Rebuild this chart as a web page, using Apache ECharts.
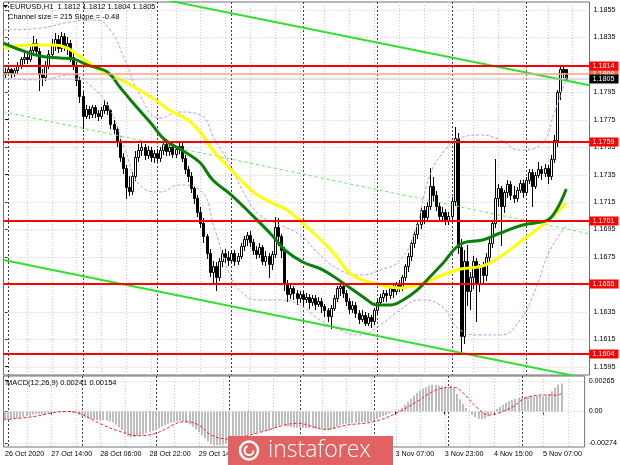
<!DOCTYPE html>
<html><head><meta charset="utf-8">
<script src="https://cdn.jsdelivr.net/npm/echarts@6/dist/echarts.min.js"></script>
<style>html,body{margin:0;padding:0;background:#fff}#c{width:620px;height:465px}</style>
</head><body><div id="c"></div>
<script>
// ---- DATA ----
// hourly candles [open, high, low, close], index 0 = 26 Oct 23:00
const candles = [
[1.1808,1.1813,1.1806,1.1810],[1.1810,1.1814,1.1808,1.1812],[1.1812,1.1813,1.1806,1.1809],[1.1809,1.1813,1.1807,1.1811],
[1.1811,1.1817,1.1809,1.1815],[1.1815,1.1821,1.1813,1.1819],[1.1819,1.1824,1.1816,1.1821],[1.1821,1.1823,1.1816,1.1819],
[1.1819,1.1828,1.1818,1.1826],[1.1826,1.1836,1.1824,1.1831],[1.1831,1.1834,1.1822,1.1825],[1.1825,1.1827,1.1797,1.1808],
[1.1808,1.1812,1.1800,1.1806],[1.1806,1.1818,1.1804,1.1815],[1.1815,1.1826,1.1813,1.1823],[1.1823,1.1834,1.1820,1.1830],
[1.1830,1.1838,1.1826,1.1834],[1.1834,1.1837,1.1824,1.1827],[1.1827,1.1839,1.1825,1.1836],[1.1836,1.1838,1.1826,1.1829],
[1.1829,1.1835,1.1823,1.1831],[1.1831,1.1833,1.1818,1.1821],[1.1821,1.1824,1.1812,1.1815],[1.1815,1.1817,1.1800,1.1804],
[1.1804,1.1806,1.1788,1.1792],[1.1792,1.1795,1.1769,1.1778],[1.1778,1.1786,1.1776,1.1783],[1.1783,1.1785,1.1776,1.1779],
[1.1779,1.1786,1.1777,1.1784],[1.1784,1.1786,1.1777,1.1780],[1.1780,1.1782,1.1775,1.1778],[1.1778,1.1784,1.1776,1.1782],
[1.1782,1.1789,1.1780,1.1786],[1.1786,1.1788,1.1779,1.1782],[1.1782,1.1783,1.1769,1.1772],[1.1772,1.1775,1.1765,1.1768],
[1.1768,1.1770,1.1756,1.1759],[1.1759,1.1761,1.1745,1.1748],[1.1748,1.1751,1.1736,1.1740],[1.1740,1.1742,1.1718,1.1726],
[1.1726,1.1734,1.1720,1.1723],[1.1723,1.1737,1.1721,1.1734],[1.1734,1.1752,1.1731,1.1748],[1.1748,1.1757,1.1745,1.1753],
[1.1753,1.1758,1.1749,1.1755],[1.1755,1.1757,1.1746,1.1749],[1.1749,1.1756,1.1747,1.1753],[1.1753,1.1755,1.1745,1.1748],
[1.1748,1.1753,1.1744,1.1751],[1.1751,1.1754,1.1745,1.1747],[1.1747,1.1755,1.1745,1.1753],[1.1753,1.1759,1.1750,1.1757],
[1.1757,1.1761,1.1749,1.1752],[1.1752,1.1757,1.1749,1.1755],[1.1755,1.1758,1.1748,1.1750],[1.1750,1.1756,1.1748,1.1754],
[1.1754,1.1759,1.1751,1.1756],[1.1756,1.1758,1.1745,1.1747],[1.1747,1.1749,1.1736,1.1739],[1.1739,1.1741,1.1730,1.1734],
[1.1734,1.1737,1.1722,1.1725],[1.1725,1.1727,1.1714,1.1718],[1.1718,1.1720,1.1705,1.1708],[1.1708,1.1711,1.1697,1.1700],
[1.1700,1.1703,1.1686,1.1690],[1.1690,1.1692,1.1674,1.1678],[1.1678,1.1681,1.1661,1.1664],[1.1664,1.1672,1.1656,1.1668],
[1.1668,1.1671,1.1651,1.1660],[1.1660,1.1674,1.1658,1.1672],[1.1672,1.1680,1.1668,1.1678],[1.1678,1.1681,1.1671,1.1675],
[1.1675,1.1679,1.1669,1.1673],[1.1673,1.1680,1.1671,1.1678],[1.1678,1.1680,1.1669,1.1672],[1.1672,1.1678,1.1670,1.1676],
[1.1676,1.1685,1.1674,1.1683],[1.1683,1.1690,1.1680,1.1688],[1.1688,1.1693,1.1684,1.1691],[1.1691,1.1694,1.1683,1.1686],
[1.1686,1.1688,1.1677,1.1680],[1.1680,1.1683,1.1674,1.1677],[1.1677,1.1685,1.1675,1.1682],[1.1682,1.1684,1.1670,1.1672],
[1.1672,1.1679,1.1669,1.1676],[1.1676,1.1678,1.1660,1.1670],[1.1670,1.1679,1.1666,1.1677],[1.1677,1.1704,1.1675,1.1697],
[1.1697,1.1703,1.1684,1.1690],[1.1690,1.1692,1.1675,1.1680],[1.1680,1.1682,1.1651,1.1656],[1.1656,1.1658,1.1643,1.1648],
[1.1648,1.1655,1.1645,1.1652],[1.1652,1.1654,1.1644,1.1649],[1.1649,1.1651,1.1641,1.1645],[1.1645,1.1650,1.1642,1.1648],
[1.1648,1.1650,1.1640,1.1644],[1.1644,1.1649,1.1642,1.1646],[1.1646,1.1648,1.1638,1.1642],[1.1642,1.1647,1.1640,1.1645],
[1.1645,1.1647,1.1637,1.1641],[1.1641,1.1646,1.1639,1.1643],[1.1643,1.1645,1.1635,1.1639],[1.1639,1.1641,1.1632,1.1636],
[1.1636,1.1638,1.1628,1.1632],[1.1632,1.1640,1.1623,1.1638],[1.1638,1.1647,1.1636,1.1645],[1.1645,1.1654,1.1643,1.1652],
[1.1652,1.1656,1.1647,1.1654],[1.1654,1.1656,1.1646,1.1649],[1.1649,1.1651,1.1640,1.1643],[1.1643,1.1645,1.1634,1.1637],
[1.1637,1.1643,1.1635,1.1640],[1.1640,1.1642,1.1631,1.1634],[1.1634,1.1636,1.1627,1.1630],[1.1630,1.1636,1.1628,1.1633],
[1.1633,1.1635,1.1625,1.1627],[1.1627,1.1634,1.1625,1.1631],[1.1631,1.1633,1.1624,1.1628],[1.1628,1.1638,1.1626,1.1636],
[1.1636,1.1644,1.1634,1.1642],[1.1642,1.1648,1.1640,1.1646],[1.1646,1.1651,1.1643,1.1649],[1.1649,1.1651,1.1643,1.1647],
[1.1647,1.1654,1.1645,1.1652],[1.1652,1.1655,1.1646,1.1650],[1.1650,1.1657,1.1648,1.1655],[1.1655,1.1658,1.1650,1.1653],
[1.1653,1.1662,1.1651,1.1660],[1.1660,1.1670,1.1658,1.1668],[1.1668,1.1678,1.1665,1.1676],[1.1676,1.1687,1.1673,1.1685],
[1.1685,1.1694,1.1682,1.1692],[1.1692,1.1701,1.1689,1.1699],[1.1699,1.1711,1.1696,1.1709],[1.1709,1.1712,1.1700,1.1704],
[1.1704,1.1715,1.1702,1.1712],[1.1712,1.1740,1.1710,1.1727],[1.1727,1.1733,1.1716,1.1720],[1.1720,1.1723,1.1709,1.1712],
[1.1712,1.1715,1.1702,1.1705],[1.1705,1.1711,1.1701,1.1708],[1.1708,1.1710,1.1699,1.1702],[1.1702,1.1708,1.1699,1.1705],
[1.1705,1.1719,1.1703,1.1716],[1.1716,1.1770,1.1713,1.1762],[1.1762,1.1765,1.1678,1.1682],[1.1682,1.1688,1.1604,1.1617],
[1.1617,1.1680,1.1612,1.1672],[1.1672,1.1684,1.1640,1.1650],[1.1650,1.1664,1.1637,1.1660],[1.1660,1.1676,1.1652,1.1672],
[1.1672,1.1674,1.1628,1.1655],[1.1655,1.1670,1.1650,1.1668],[1.1668,1.1671,1.1655,1.1662],[1.1662,1.1678,1.1658,1.1675],
[1.1675,1.1688,1.1672,1.1685],[1.1685,1.1702,1.1682,1.1700],[1.1700,1.1746,1.1697,1.1718],[1.1718,1.1728,1.1712,1.1725],
[1.1725,1.1727,1.1684,1.1712],[1.1712,1.1724,1.1708,1.1722],[1.1722,1.1731,1.1719,1.1728],[1.1728,1.1730,1.1717,1.1720],
[1.1720,1.1727,1.1715,1.1718],[1.1718,1.1726,1.1716,1.1724],[1.1724,1.1731,1.1722,1.1729],[1.1729,1.1731,1.1719,1.1722],
[1.1722,1.1733,1.1720,1.1731],[1.1731,1.1739,1.1729,1.1737],[1.1737,1.1739,1.1712,1.1727],[1.1727,1.1737,1.1725,1.1735],
[1.1735,1.1744,1.1733,1.1739],[1.1739,1.1741,1.1732,1.1736],[1.1736,1.1743,1.1734,1.1740],[1.1740,1.1742,1.1729,1.1734],
[1.1734,1.1749,1.1732,1.1746],[1.1746,1.1764,1.1744,1.1760],[1.1760,1.1797,1.1756,1.1795],[1.1795,1.1814,1.1790,1.1812],
[1.1812,1.1815,1.1806,1.1810],[1.1812,1.1812,1.1804,1.1805]
];
// MACD main line (histogram), one value per candle
const macdHist = [
-0.00070,-0.00068,-0.00066,-0.00062,-0.00058,-0.00052,-0.00046,-0.00040,-0.00034,-0.00026,
-0.00022,-0.00024,-0.00026,-0.00022,-0.00018,-0.00014,-0.00010,-0.00008,-0.00006,-0.00006,
-0.00008,-0.00010,-0.00014,-0.00020,-0.00030,-0.00042,-0.00052,-0.00060,-0.00066,-0.00070,
-0.00074,-0.00076,-0.00076,-0.00078,-0.00086,-0.00096,-0.00112,-0.00134,-0.00160,-0.00190,
-0.00214,-0.00222,-0.00220,-0.00214,-0.00206,-0.00198,-0.00188,-0.00178,-0.00168,-0.00156,
-0.00144,-0.00130,-0.00116,-0.00106,-0.00098,-0.00092,-0.00086,-0.00082,-0.00086,-0.00098,
-0.00112,-0.00132,-0.00154,-0.00180,-0.00206,-0.00232,-0.00258,-0.00280,-0.00290,-0.00292,
-0.00290,-0.00284,-0.00278,-0.00272,-0.00264,-0.00258,-0.00250,-0.00238,-0.00224,-0.00208,
-0.00198,-0.00190,-0.00182,-0.00174,-0.00170,-0.00166,-0.00164,-0.00156,-0.00136,-0.00122,
-0.00118,-0.00124,-0.00132,-0.00136,-0.00138,-0.00140,-0.00140,-0.00142,-0.00142,-0.00144,
-0.00146,-0.00148,-0.00150,-0.00152,-0.00156,-0.00162,-0.00156,-0.00146,-0.00132,-0.00118,
-0.00110,-0.00106,-0.00104,-0.00100,-0.00098,-0.00098,-0.00094,-0.00092,-0.00088,-0.00084,
-0.00074,-0.00062,-0.00050,-0.00040,-0.00030,-0.00020,-0.00010,0.00000,0.00010,0.00030,
0.00056,0.00084,0.00112,0.00138,0.00160,0.00182,0.00196,0.00208,0.00222,0.00230,
0.00228,0.00222,0.00214,0.00206,0.00200,0.00224,0.00206,0.00150,0.00104,0.00064,
0.00030,0.00000,-0.00030,-0.00050,-0.00062,-0.00066,-0.00060,-0.00044,-0.00020,0.00004,
0.00022,0.00040,0.00058,0.00074,0.00088,0.00098,0.00108,0.00116,0.00120,0.00124,
0.00128,0.00128,0.00130,0.00132,0.00134,0.00132,0.00134,0.00150,0.00174,0.00206,
0.00232,0.00241
];
// MACD signal line [bar index, value]
const macdSignal = [[-0.5,-0.00072],[9,-0.00045],[20,0.0],[24,-0.00014],[30.6,-0.00100],[36,-0.00160],[43.5,-0.00209],[49,-0.00188],[58.7,-0.00088],[63,-0.00117],[67,-0.00203],[72.6,-0.00237],[82,-0.00186],[91,-0.00117],[95.2,-0.00102],[100.6,-0.00134],[104,-0.00154],[111.3,-0.00117],[120,-0.00088],[127.4,-0.00013],[133.9,0.00084],[140.3,0.00185],[145.8,0.00208],[149,0.00159],[153.2,0.00041],[157.4,-0.00031],[160.6,-0.00013],[165.2,0.00041],[169.3,0.00116],[175.8,0.00142],[179,0.00140],[181,0.00154]];
// moving averages [bar index, price]
const maYellow = [[-0.5,1.18272],[8,1.18295],[16,1.18295],[20,1.18273],[24,1.18214],[30.5,1.18112],[37,1.18047],[47,1.17916],[53,1.17821],[59,1.17748],[63,1.17660],[67,1.17529],[73,1.17383],[80.5,1.17216],[85.5,1.17150],[90.5,1.17099],[98.5,1.16946],[106,1.16778],[112,1.16618],[120,1.16552],[127.5,1.16523],[135,1.16560],[145.5,1.16654],[154,1.16684],[159.5,1.16749],[167,1.16873],[175,1.17012],[181,1.17143]];
const maGreen = [[-0.5,1.18309],[5,1.18258],[11.3,1.18214],[17.7,1.18200],[22,1.18193],[26.5,1.18149],[33,1.18098],[37,1.17988],[41.3,1.17872],[47,1.17726],[51.6,1.17602],[58,1.17515],[63,1.17434],[67,1.17310],[73,1.17201],[79,1.17070],[86,1.16910],[90.3,1.16800],[96,1.16713],[102.6,1.16654],[109,1.16560],[115.5,1.16458],[120,1.16399],[124.2,1.16399],[128.4,1.16436],[133,1.16509],[137,1.16603],[141.3,1.16705],[147,1.16844],[154,1.16873],[159.7,1.16924],[167,1.16982],[175,1.17019],[178,1.17099],[181,1.17245]];
// envelope bands [bar index, price]
const bandUpper = [[-0.5,1.18404],[11.3,1.18418],[21,1.18462],[29,1.18477],[33.9,1.18404],[38.7,1.18185],[43.5,1.17930],[50,1.17762],[56.4,1.17806],[62.9,1.17784],[67.7,1.17602],[72.6,1.17420],[77.4,1.17201],[82.2,1.17055],[88.7,1.16982],[95.1,1.16910],[101.6,1.16764],[108,1.16654],[114.5,1.16618],[121,1.16654],[127.4,1.16727],[132.3,1.16946],[137.1,1.17347],[141.9,1.17529],[146.8,1.17617],[153.2,1.17638],[159.7,1.17602],[166.1,1.17529],[172.6,1.17566],[177.4,1.17821],[181.3,1.18076]];
const bandLower = [[-0.5,1.18054],[11.3,1.18040],[21,1.18076],[27.4,1.18003],[33.9,1.17821],[38.7,1.17529],[43.5,1.17274],[50,1.17223],[56.4,1.17274],[62.9,1.17238],[67.7,1.16946],[72.6,1.16618],[77.4,1.16472],[82.2,1.16436],[88.7,1.16436],[95.1,1.16399],[101.6,1.16290],[108,1.16217],[114.5,1.16181],[121,1.16253],[127.4,1.16363],[133.8,1.16436],[140.3,1.16399],[146.8,1.16217],[153.2,1.16181],[159.7,1.16181],[166.1,1.16290],[171,1.16509],[175.8,1.16800],[181.3,1.16982]];
// trend channel [bar index, price]
const channelUpper = [[40,1.18676],[188.5,1.18001]];
const channelLower = [[-0.5,1.16727],[188.5,1.15860]];
const channelMid = [[-0.5,1.17808],[188.5,1.16918]];
// horizontal levels
const levels = [1.1814, 1.1759, 1.1701, 1.1655, 1.1604];
const askLevel = 1.1808, bidLevel = 1.1805;
// axis ticks
const priceTicks = [1.1595,1.1615,1.1635,1.1655,1.1675,1.1695,1.1715,1.1735,1.1755,1.1775,1.1795,1.1815,1.1835,1.1855];
const macdTicks = [-0.00274, 0, 0.00265];
const timeLabelIdx = [0,15,31,47,63,79,95,111,127,143,159,175];
const timeLabels = ['26 Oct 2020','27 Oct 14:00','28 Oct 06:00','28 Oct 22:00','29 Oct 14:00','30 Oct 06:00','30 Oct 22:00','2 Nov 15:00','3 Nov 07:00','3 Nov 23:00','4 Nov 15:00','5 Nov 07:00'];
const daySepIdx = [1,25,49,73,96,120,144,168];
const gridIdx = [7,15,23,31,39,47,55,63,71,79,87,95,103,111,119,127,135,143,151,159,167,175,183];

// ---- CHART ----
const FONT = 'Liberation Sans';
const chart = echarts.init(document.getElementById('c'), null, {renderer:'canvas'});
const labelMap = {}; timeLabelIdx.forEach((v,k)=>labelMap[v]=timeLabels[k]);
const PMIN = 1.15889, PMAX = 1.18608, MMIN = -0.00306, MMAX = 0.00305;

function vLines(color, dash){
  return function(params, api){
    const cs = params.coordSys;
    const x = Math.round(api.coord([api.value(0), api.value(1)])[0]) + 0.5;
    return {type:'line', shape:{x1:x,y1:cs.y,x2:x,y2:cs.y+cs.height}, style:{stroke:color, lineWidth:1, lineDash:dash}, silent:true};
  };
}
function hLines(color, dash){
  return function(params, api){
    const cs = params.coordSys;
    const y = Math.round(api.coord([0, api.value(1)])[1]) + 0.5;
    return {type:'line', shape:{x1:cs.x,y1:y,x2:cs.x+cs.width,y2:y}, style:{stroke:color, lineWidth:1, lineDash:dash}, silent:true};
  };
}
function levelItem(color, width, boxColor, txt){
  return function(params, api){
    const cs = params.coordSys;
    const v = api.value(1);
    const y = Math.round(api.coord([0, v])[1]);
    const children = [{type:'line', shape:{x1:cs.x,y1:y,x2:cs.x+cs.width,y2:y}, style:{stroke:color, lineWidth:width}}];
    if (boxColor){
      children.push({type:'rect', shape:{x:cs.x+cs.width, y:y-4.5, width:29, height:9}, style:{fill:boxColor}});
      children.push({type:'text', style:{x:cs.x+cs.width+3, y:y, text:v.toFixed(4), fill:txt, font:'7.2px '+FONT, verticalAlign:'middle', align:'left'}});
    }
    return {type:'group', children};
  };
}
function renderCandle(params, api){
  const i = api.value(0), o = api.value(1), h = api.value(2), l = api.value(3), c = api.value(4);
  const pO = api.coord([i,o]), pC = api.coord([i,c]), pH = api.coord([i,h]), pL = api.coord([i,l]);
  const x = Math.round(pO[0]) + 0.5;
  let top = Math.round(Math.min(pO[1],pC[1])) + 0.5, bot = Math.round(Math.max(pO[1],pC[1])) + 0.5;
  if (bot - top < 1) bot = top + 1;
  const up = c >= o;
  return {type:'group', children:[
    {type:'line', shape:{x1:x,y1:Math.round(pH[1]),x2:x,y2:Math.round(pL[1])+1}, style:{stroke:'#000', lineWidth:1}},
    {type:'rect', shape:{x:x-1, y:top, width:2, height:bot-top}, style:{fill: up ? '#fff' : '#000', stroke:'#000', lineWidth:1}}
  ]};
}
function renderHist(params, api){
  const i = api.value(0), v = api.value(1);
  const p = api.coord([i, v]), z = api.coord([i, 0]);
  const x = Math.round(p[0]);
  const y1 = Math.min(p[1], z[1]), y2 = Math.max(p[1], z[1]);
  return {type:'rect', shape:{x:x-1, y:y1, width:2, height:Math.max(y2-y1,0.5)}, style:{fill:'#bdbdbd'}};
}

const lineS = (data, color, width, type, z, smooth) => ({
  type:'line', xAxisIndex:0, yAxisIndex:0, data, showSymbol:false, smooth: smooth, clip:true, silent:true, z,
  lineStyle:{color, width, type}, animation:false
});

const option = {
  animation:false,
  backgroundColor:'#fff',
  grid:[
    {left:3.5, top:2, width:586, height:373, show:true, borderColor:'#707070', borderWidth:1, backgroundColor:'transparent'},
    {left:3.5, top:376, width:586, height:71, show:true, borderColor:'#707070', borderWidth:1, backgroundColor:'transparent'}
  ],
  xAxis:[
    {type:'value', gridIndex:0, min:-0.5, max:188.5, show:false},
    {type:'value', gridIndex:1, min:-0.5, max:188.5,
     axisLine:{show:false}, splitLine:{show:false},
     axisTick:{show:true, customValues:timeLabelIdx, length:3, lineStyle:{color:'#000'}},
     axisLabel:{show:true, customValues:timeLabelIdx, formatter:(v)=>labelMap[Math.round(v)]||'', align:'left', margin:4, color:'#000', fontFamily:FONT, fontSize:7.2, hideOverlap:false}}
  ],
  yAxis:[
    {type:'value', gridIndex:0, position:'right', min:PMIN, max:PMAX, scale:true,
     axisLine:{show:false}, splitLine:{show:false},
     axisTick:{show:true, customValues:priceTicks, length:3, lineStyle:{color:'#000'}},
     axisLabel:{show:true, customValues:priceTicks, formatter:(v)=>v.toFixed(4), margin:4, color:'#000', fontFamily:FONT, fontSize:7.2}},
    {type:'value', gridIndex:1, position:'right', min:MMIN, max:MMAX,
     axisLine:{show:false}, splitLine:{show:false},
     axisTick:{show:true, customValues:macdTicks, length:3, lineStyle:{color:'#000'}},
     axisLabel:{show:true, customValues:macdTicks, formatter:(v)=> Math.abs(v)<1e-9 ? '0.00' : v.toFixed(5), margin:4, color:'#000', fontFamily:FONT, fontSize:7.2}}
  ],
  series:[
    {type:'custom', xAxisIndex:0, yAxisIndex:0, z:1, silent:true, data:gridIdx.map(v=>[v,PMIN]), encode:{x:0,y:1}, renderItem:vLines('#c8c8c8',[1,2])},
    {type:'custom', xAxisIndex:0, yAxisIndex:0, z:1, silent:true, data:priceTicks.map(v=>[0,v]), encode:{x:0,y:1}, renderItem:hLines('#c8c8c8',[1,2])},
    {type:'custom', xAxisIndex:0, yAxisIndex:0, z:1, silent:true, data:daySepIdx.map(v=>[v,PMIN]), encode:{x:0,y:1}, renderItem:vLines('#404040',[2,2])},
    {type:'custom', xAxisIndex:1, yAxisIndex:1, z:1, silent:true, data:gridIdx.map(v=>[v,0]), encode:{x:0,y:1}, renderItem:vLines('#c8c8c8',[1,2])},
    {type:'custom', xAxisIndex:1, yAxisIndex:1, z:1, silent:true, data:macdTicks.map(v=>[0,v]), encode:{x:0,y:1}, renderItem:hLines('#c8c8c8',[1,2])},
    {type:'custom', xAxisIndex:1, yAxisIndex:1, z:1, silent:true, data:daySepIdx.map(v=>[v,0]), encode:{x:0,y:1}, renderItem:vLines('#404040',[2,2])},
    {type:'custom', xAxisIndex:0, yAxisIndex:0, z:3, silent:true, data:candles.map((d,i)=>[i,d[0],d[1],d[2],d[3]]), encode:{x:0,y:[1,2,3,4]}, renderItem:renderCandle},
    lineS(bandUpper,'#c690f0',1,[3,2],4,0.5),
    lineS(bandLower,'#c690f0',1,[3,2],4,0.5),
    lineS(channelUpper,'#2fe02f',2,'solid',5,false),
    lineS(channelLower,'#2fe02f',2,'solid',5,false),
    lineS(channelMid,'#5fe85f',1,[3,3],5,false),
    lineS(maYellow,'#ffff00',3,'solid',6,0.4),
    lineS(maGreen,'#0a800a',3,'solid',6,0.4),
    {type:'custom', xAxisIndex:0, yAxisIndex:0, z:7, silent:true, data:[[0,askLevel]], encode:{x:0,y:1}, renderItem:levelItem('#f5a585',1.5,'#f07050','#fff')},
    {type:'custom', xAxisIndex:0, yAxisIndex:0, z:7, silent:true, data:[[0,bidLevel]], encode:{x:0,y:1}, renderItem:levelItem('#c0c0c0',1,'#000','#fff')},
    {type:'custom', xAxisIndex:0, yAxisIndex:0, z:8, silent:true, data:levels.map(v=>[0,v]), encode:{x:0,y:1}, renderItem:levelItem('#ff0000',2,'#ff0000','#fff')},
    {type:'custom', xAxisIndex:1, yAxisIndex:1, z:3, silent:true, data:macdHist.map((v,i)=>[i,v]), encode:{x:0,y:1}, renderItem:renderHist},
    {type:'line', xAxisIndex:1, yAxisIndex:1, z:4, data:macdSignal, showSymbol:false, smooth:0.4, silent:true, lineStyle:{color:'#ff2020', width:1, type:[3,2]}}
  ],
  graphic:[
    {type:'polygon', shape:{points:[[3,5],[8,5],[5.5,8]]}, style:{fill:'#000'}, z:20},
    {type:'text', left:10, top:3, style:{text:'EURUSD,H1  1.1812 1.1812 1.1804 1.1805', fill:'#000', font:'7.5px '+FONT}, z:20},
    {type:'text', left:8, top:13, style:{text:'Channel size = 215 Slope = -0.48', fill:'#000', font:'7.5px '+FONT}, z:20},
    {type:'text', left:6, top:379, style:{text:'MACD(12,26,9) 0.00241 0.00154', fill:'#000', font:'7.5px '+FONT}, z:20},
    {type:'group', left:228, top:436, zlevel:5, z:100, children:[
      {type:'rect', zlevel:5, z:100, shape:{x:0,y:0,width:165,height:29}, style:{fill:'#e06262'}},
      {type:'circle', zlevel:5, z:101, shape:{cx:21,cy:14.5,r:9}, style:{fill:'none', stroke:'#fff', lineWidth:2.5}},
      {type:'arc', zlevel:5, z:101, shape:{cx:21,cy:14.5,r:4.5,startAngle:0,endAngle:Math.PI*1.4}, style:{fill:'none', stroke:'#fff', lineWidth:2}},
      {type:'text', zlevel:5, z:101, x:40, y:14.5, style:{text:'instaforex', fill:'#fff', font:'300 23px "Open Sans"', verticalAlign:'middle'}}
    ]}
  ]
};
chart.setOption(option);
</script>
</body></html>
